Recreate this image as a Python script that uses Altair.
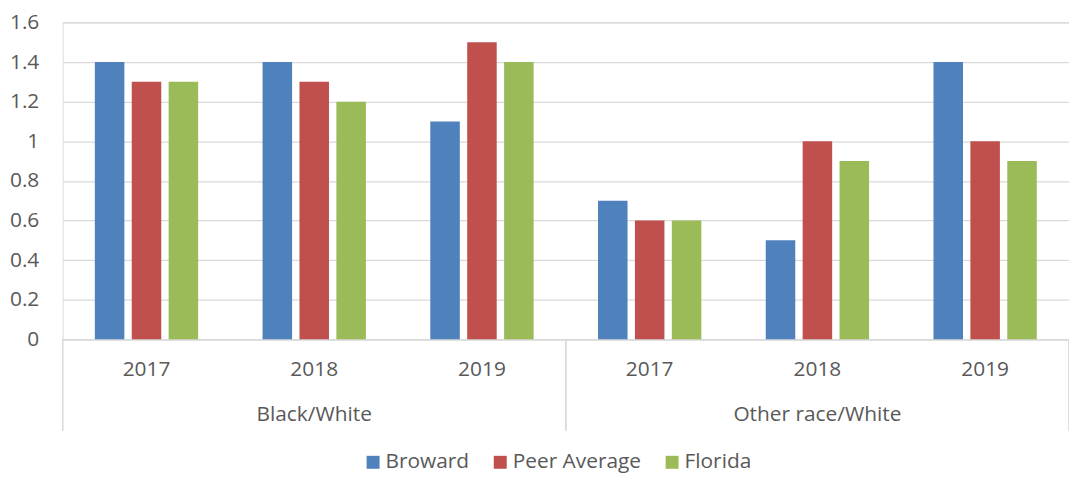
import altair as alt
import pandas as pd

groups = ["Black/White", "Other race/White"]
years = ["2017", "2018", "2019"]
series = ["Broward", "Peer Average", "Florida"]
colors = ["#4F81BD", "#C0504D", "#9BBB59"]

broward = [1.4, 1.4, 1.1, 0.7, 0.5, 1.4]
peer = [1.3, 1.3, 1.5, 0.6, 1.0, 1.0]
florida = [1.3, 1.2, 1.4, 0.6, 0.9, 0.9]

y_ticks = [0, 0.2, 0.4, 0.6, 0.8, 1.0, 1.2, 1.4, 1.6]

cats = [g + "|" + y for g in groups for y in years]
rows = []
for i, c in enumerate(cats):
    for s, vals in zip(series, [broward, peer, florida]):
        rows.append({"cat": c, "series": s, "value": vals[i]})
df = pd.DataFrame(rows)

grp_df = pd.DataFrame({"cat": [g + "|" + years[1] for g in groups], "label": groups})

W = 1013
H = 319
FONT = "Open Sans"
FS = 21
TXT = "#595959"
LINE = "#d9d9d9"

xscale = alt.Scale(domain=cats, paddingInner=0.384, paddingOuter=0.192)

bars = alt.Chart(df).mark_bar().encode(
    x=alt.X("cat:N", scale=xscale, sort=cats,
            axis=alt.Axis(title=None, labelExpr="split(datum.label, '|')[1]",
                          labelAngle=0, ticks=False, domain=True, domainColor=LINE,
                          domainWidth=1.3, grid=False, labelPadding=19,
                          labelFontSize=FS, labelColor=TXT, labelFont=FONT)),
    xOffset=alt.XOffset("series:N", sort=series,
                        scale=alt.Scale(domain=series, paddingInner=0.2, paddingOuter=0)),
    y=alt.Y("value:Q", scale=alt.Scale(domain=[0, 1.6], nice=False),
            axis=alt.Axis(title=None, values=y_ticks, format="~g", domain=False,
                          ticks=False, grid=True, gridColor=LINE, gridWidth=1.3,
                          labelPadding=24, labelFontSize=FS, labelColor=TXT,
                          labelFont=FONT)),
    color=alt.Color("series:N", sort=series,
                    scale=alt.Scale(domain=series, range=colors),
                    legend=alt.Legend(title=None, orient="none", direction="horizontal",
                                      legendX=302, legendY=432, symbolType="square",
                                      symbolSize=170, symbolStrokeWidth=0,
                                      labelFontSize=FS, labelColor=TXT, labelFont=FONT,
                                      labelOffset=2, columnPadding=20, padding=0)),
)

grp_text = alt.Chart(grp_df).mark_text(fontSize=FS, font=FONT, color=TXT,
                                       baseline="middle").encode(
    x=alt.X("cat:N", scale=xscale, sort=cats),
    y=alt.value(H + 76),
    text="label:N",
)

def vline(px):
    return alt.Chart(grp_df).mark_rule(color=LINE, strokeWidth=1.3).encode(
        x=alt.value(px), y=alt.value(H), y2=alt.value(H + 92))

chart = alt.layer(bars, grp_text, vline(0), vline(W / 2), vline(W)).properties(
    width=W, height=H,
    autosize=alt.AutoSizeParams(type="none"),
    padding={"left": 55, "top": 13, "right": 0, "bottom": 134},
).configure_view(stroke=None).configure(font=FONT)

chart.save("out.html", embed_options={"renderer": "svg", "actions": False})
